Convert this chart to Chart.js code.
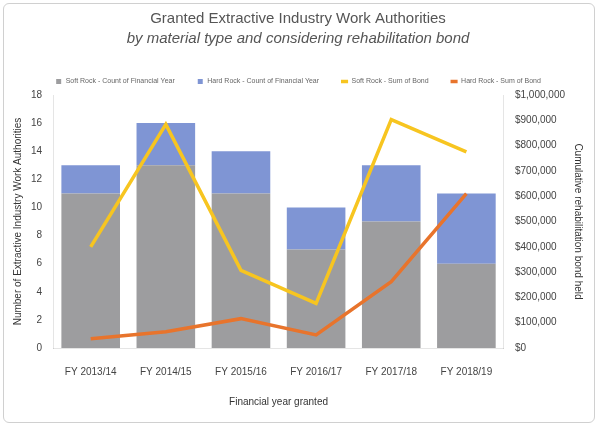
<!DOCTYPE html>
<html lang="en">
<head>
<meta charset="UTF-8">
<title>Extractive Industry Work Authorities</title>
<script src="https://cdn.jsdelivr.net/npm/chart.js"></script>
<style>
  body { margin: 0; background: #fff; }
  #wrap { position: relative; width: 592px; height: 420px; margin: 3px; border: 1px solid #d0d0d0; border-radius: 6px; box-sizing: border-box; }
</style>
</head>
<body>
<div id="wrap"><canvas id="chart"></canvas></div>
<script>
var years = ['FY 2013/14', 'FY 2014/15', 'FY 2015/16', 'FY 2016/17', 'FY 2017/18', 'FY 2018/19'];
var softCount = [11, 13, 11, 7, 9, 6];
var hardCount = [2, 3, 3, 3, 4, 5];
var softBond = [400000, 884000, 307000, 176000, 903000, 775000];
var hardBond = [37000, 64000, 116000, 52000, 262000, 610000];
var legendOrder = [1, 0, 2, 3];

var ctx = document.getElementById('chart').getContext('2d');
var chart = new Chart(ctx, {
    type: 'bar',
    data: {
        labels: years,
        datasets: [
            { label: 'Hard Rock - Count of Financial Year', data: hardCount, backgroundColor: '#7f95d4', stack: 's', yAxisID: 'y', order: 3, pointStyle: 'rect', barPercentage: 0.78, categoryPercentage: 1 },
            { label: 'Soft Rock - Count of Financial Year', data: softCount, backgroundColor: '#9d9d9f', stack: 's', yAxisID: 'y', order: 2, pointStyle: 'rect', barPercentage: 0.78, categoryPercentage: 1 },
            { type: 'line', label: 'Soft Rock - Sum of Bond', data: softBond, borderColor: '#f7c520', borderWidth: 3.5, pointRadius: 0, yAxisID: 'y1', order: 1, pointStyle: 'line', tension: 0 },
            { type: 'line', label: 'Hard Rock - Sum of Bond', data: hardBond, borderColor: '#e8742c', borderWidth: 3.5, pointRadius: 0, yAxisID: 'y1', order: 0, pointStyle: 'line', tension: 0 }
        ]
    },
    options: {
        responsive: true,
        maintainAspectRatio: false,
        animation: false,
        layout: { padding: { left: 4, right: 6, bottom: 10, top: 4 } },
        plugins: {
            title: {
                display: true,
                text: 'Granted Extractive Industry Work Authorities',
                font: { family: 'Liberation Sans', size: 15, weight: 'normal' },
                color: '#555',
                padding: { top: 2, bottom: 2 }
            },
            subtitle: {
                display: true,
                text: 'by material type and considering rehabilitation bond',
                font: { family: 'Liberation Sans', size: 15, style: 'italic' },
                color: '#555',
                padding: { bottom: 8 }
            },
            legend: {
                labels: {
                    usePointStyle: true,
                    boxWidth: 14, boxHeight: 5,
                    font: { family: 'Liberation Sans', size: 7 },
                    color: '#666',
                    padding: 22,
                    sort: function (a, b) { return legendOrder.indexOf(a.datasetIndex) - legendOrder.indexOf(b.datasetIndex); }
                }
            }
        },
        scales: {
            x: {
                stacked: true,
                grid: { display: false },
                ticks: { color: '#444', font: { family: 'Liberation Sans', size: 10 }, padding: 10 },
                title: { display: true, text: 'Financial year granted', color: '#333', font: { family: 'Liberation Sans', size: 10 }, padding: { top: 8 } }
            },
            y: {
                stacked: true,
                min: 0, max: 18,
                ticks: { stepSize: 2, color: '#444', font: { family: 'Liberation Sans', size: 10 } },
                grid: { display: false },
                title: { display: true, text: 'Number of Extractive Industry Work Authorities', color: '#333', font: { family: 'Liberation Sans', size: 10 } }
            },
            y1: {
                position: 'right',
                min: 0, max: 1000000,
                ticks: { stepSize: 100000, color: '#444', font: { family: 'Liberation Sans', size: 10 },
                    callback: function (v) { return '$' + v.toLocaleString('en-US'); } },
                grid: { display: false },
                title: { display: true, text: 'Cumulative rehabilitation bond held', color: '#333', font: { family: 'Liberation Sans', size: 10 } }
            }
        }
    }
});
</script>
</body>
</html>
